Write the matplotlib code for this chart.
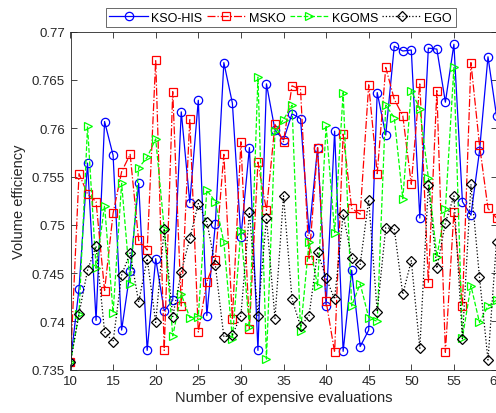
import matplotlib
matplotlib.use("Agg")
import matplotlib.pyplot as plt
import numpy as np

plt.rcParams['font.family'] = ['Liberation Sans', 'DejaVu Sans']

evals = list(range(10, 61))

kso_his = [0.7358, 0.7434, 0.7564, 0.7401, 0.7607, 0.7572, 0.7391, 0.7452, 0.7543, 0.7370,
           0.7465, 0.7411, 0.7422, 0.7617, 0.7523, 0.7629, 0.7406, 0.7501, 0.7668, 0.7626,
           0.7487, 0.7580, 0.7370, 0.7646, 0.7598, 0.7588, 0.7615, 0.7610, 0.7491, 0.7580,
           0.7416, 0.7597, 0.7369, 0.7453, 0.7374, 0.7391, 0.7637, 0.7593, 0.7685, 0.7680,
           0.7681, 0.7507, 0.7683, 0.7682, 0.7627, 0.7687, 0.7524, 0.7510, 0.7576, 0.7674,
           0.7613]

msko = [0.7358, 0.7553, 0.7532, 0.7524, 0.7432, 0.7512, 0.7555, 0.7573, 0.7484, 0.7474,
        0.7671, 0.7370, 0.7638, 0.7416, 0.7610, 0.7389, 0.7441, 0.7464, 0.7573, 0.7402,
        0.7586, 0.7392, 0.7565, 0.7515, 0.7604, 0.7586, 0.7644, 0.7640, 0.7464, 0.7580,
        0.7421, 0.7368, 0.7594, 0.7517, 0.7511, 0.7645, 0.7553, 0.7663, 0.7630, 0.7613,
        0.7542, 0.7647, 0.7440, 0.7639, 0.7368, 0.7513, 0.7416, 0.7668, 0.7583, 0.7517,
        0.7507]

kgoms = [0.7358, 0.7408, 0.7602, 0.7455, 0.7520, 0.7409, 0.7543, 0.7439, 0.7559, 0.7570,
         0.7589, 0.7496, 0.7385, 0.7428, 0.7404, 0.7405, 0.7536, 0.7524, 0.7482, 0.7382,
         0.7494, 0.7394, 0.7653, 0.7361, 0.7597, 0.7609, 0.7624, 0.7390, 0.7482, 0.7437,
         0.7603, 0.7492, 0.7637, 0.7416, 0.7439, 0.7404, 0.7400, 0.7624, 0.7611, 0.7527,
         0.7639, 0.7620, 0.7549, 0.7467, 0.7516, 0.7663, 0.7383, 0.7437, 0.7399, 0.7416,
         0.7422]

ego = [0.7358, 0.7408, 0.7453, 0.7478, 0.7389, 0.7379, 0.7448, 0.7471, 0.7420, 0.7465,
       0.7399, 0.7496, 0.7405, 0.7451, 0.7486, 0.7522, 0.7503, 0.7458, 0.7384, 0.7386,
       0.7406, 0.7513, 0.7406, 0.7507, 0.7403, 0.7530, 0.7423, 0.7395, 0.7406, 0.7472,
       0.7445, 0.7423, 0.7511, 0.7466, 0.7459, 0.7526, 0.7410, 0.7497, 0.7496, 0.7428,
       0.7463, 0.7372, 0.7541, 0.7455, 0.7502, 0.7530, 0.7382, 0.7542, 0.7446, 0.7360,
       0.7482]

labels = ['KSO-HIS', 'MSKO', 'KGOMS', 'EGO']
xticks = [10, 15, 20, 25, 30, 35, 40, 45, 50, 55, 60]
yticks = [0.735, 0.74, 0.745, 0.75, 0.755, 0.76, 0.765, 0.77]

W, H = 496, 414
fig = plt.figure(figsize=(W / 100, H / 100), dpi=100)
left, right, top, bottom = 70.5, 496.5, 32.7, 370.7
ax = fig.add_axes([left / W, 1 - bottom / H, (right - left) / W, (bottom - top) / H])

ms = 6
lw = 0.9
ax.plot(evals, kso_his, color='blue', linestyle='-', marker='o', ms=ms, mfc='none', mew=0.9, lw=lw, label=labels[0])
ax.plot(evals, msko, color='red', linestyle='-.', marker='s', ms=ms - 0.5, mfc='none', mew=0.9, lw=lw, label=labels[1])
ax.plot(evals, kgoms, color='#00ff00', linestyle='--', marker='>', ms=ms, mfc='none', mew=0.9, lw=lw, label=labels[2])
ax.plot(evals, ego, color='black', linestyle=':', marker='D', ms=ms - 1, mfc='none', mew=0.9, lw=lw, label=labels[3])

ax.set_xlim(10, 60)
ax.set_ylim(0.735, 0.77)
ax.set_xticks(xticks)
ax.set_yticks(yticks)
ax.set_yticklabels(['%g' % t for t in yticks])
ax.tick_params(direction='in', top=True, right=True, length=4, width=0.6, labelsize=9.5,
               colors='#262626', pad=4)
for s in ax.spines.values():
    s.set_color('#262626')
    s.set_linewidth(0.6)

ax.set_xlabel('Number of expensive evaluations', fontsize=10.5, color='#262626', labelpad=2)
ax.set_ylabel('Volume efficiency', fontsize=10.5, color='#262626', labelpad=4)

leg = ax.legend(loc='center', bbox_to_anchor=(0.493, 1.042), ncol=4, fontsize=9,
                frameon=True, fancybox=False, edgecolor='#262626', handlelength=3.1,
                handletextpad=0.25, columnspacing=0.35, borderpad=0.3, borderaxespad=0)
leg.get_frame().set_linewidth(0.6)

fig.savefig('out.png', dpi=100)
